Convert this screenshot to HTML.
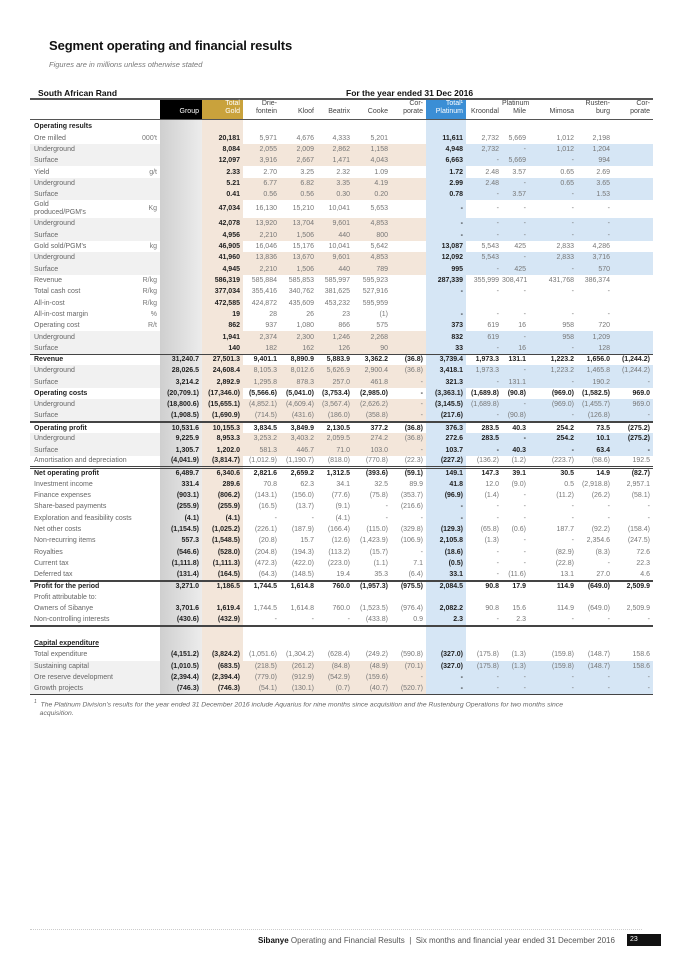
<!DOCTYPE html>
<html><head><meta charset="utf-8"><style>
*{margin:0;padding:0;box-sizing:border-box}
body{width:680px;height:962px;background:#fff;position:relative;font-family:"Liberation Sans",sans-serif;overflow:hidden}
.t{position:absolute;left:49px;top:38px;font-size:13px;font-weight:bold;color:#111;letter-spacing:-0.1px}
.st{position:absolute;left:49px;top:60px;font-size:7.5px;font-style:italic;color:#777}
.sar{position:absolute;left:38px;top:88px;font-size:8.5px;font-weight:bold;color:#111}
.fy{position:absolute;left:346px;top:88px;font-size:8.5px;font-weight:bold;color:#111}
table{position:absolute;left:30px;top:98px;width:623px;border-collapse:collapse;table-layout:fixed;font-size:7px;border-top:2px solid #555}
td{height:11.33px;text-align:right;padding:0 3px 0 0;white-space:nowrap;color:#777;line-height:7px;overflow:visible}
td:nth-child(1){text-align:left;padding-left:4px;color:#666}
td:nth-child(2){color:#777}
td:nth-child(3){background:linear-gradient(90deg,#cfcfcf,#ececec)}
td:nth-child(4){background:#f3e6da}
td:nth-child(10){background:#d6e6f5}
td:nth-child(3),td:nth-child(4),td:nth-child(10){font-weight:bold;color:#222}
tr.s td:nth-child(1),tr.s td:nth-child(2){background:#f1f1f1}
tr.s td:nth-child(n+5):nth-child(-n+9){background:#f3e6da}
tr.s td:nth-child(n+11){background:#d6e6f5}
tr.b td{font-weight:bold;color:#222}
tr.l td{border-top:1px solid #444}
tr.L td{border-top:2px solid #444}
tr.D td{border-top:3px double #444}
tr.h td{height:20px;vertical-align:bottom;padding-bottom:3px;color:#444;line-height:8px;border-bottom:1.5px solid #555;background:#fff}
tr.h td:nth-child(3){background:#000;color:#fff;font-weight:normal}
tr.h td:nth-child(4){background:#c9a23c;color:#fff;font-weight:normal}
tr.h td:nth-child(10){background:#3b8ed5;color:#fff;font-weight:normal}
tr.g td{height:17.6px;line-height:8px}
.cap{text-decoration:underline;font-weight:bold;color:#222}
.fn{position:absolute;left:34px;top:698px;font-size:6.8px;font-style:italic;color:#666;line-height:8.5px;width:640px}
.foot{position:absolute;left:258px;top:936px;font-size:8px;color:#555}
.foot b{color:#111}
.fl{position:absolute;left:30px;top:929px;width:612px;border-top:1px dotted #ccc}
.pg{position:absolute;left:627px;top:934px;width:34px;height:12px;background:#111;color:#fff;font-size:7px;padding:2px 0 0 3px}
</style></head><body>
<div class="t">Segment operating and financial results</div>
<div class="st">Figures are in millions unless otherwise stated</div>
<div class="sar">South African Rand</div>
<div class="fy">For the year ended 31 Dec 2016</div>
<table>
<colgroup><col style="width:100px"><col style="width:30px"><col style="width:42px"><col style="width:41px"><col style="width:37px"><col style="width:37px"><col style="width:36px"><col style="width:38px"><col style="width:35px"><col style="width:40px"><col style="width:36px"><col style="width:27px"><col style="width:48px"><col style="width:36px"><col style="width:40px"></colgroup>
<tr class="h"><td></td><td></td><td>Group</td><td>Total<br>Gold</td><td>Drie-<br>fontein</td><td>Kloof</td><td>Beatrix</td><td>Cooke</td><td>Cor-<br>porate</td><td>Total¹<br>Platinum</td><td>Kroondal</td><td>Platinum<br>Mile</td><td>Mimosa</td><td>Rusten-<br>burg</td><td>Cor-<br>porate</td></tr>
<tr style="height:13px"><td style="font-weight:bold;color:#222;height:13px">Operating results</td><td></td><td></td><td></td><td></td><td></td><td></td><td></td><td></td><td></td><td></td><td></td><td></td><td></td><td></td></tr>
<tr><td>Ore milled</td><td>000't</td><td></td><td>20,181</td><td>5,971</td><td>4,676</td><td>4,333</td><td>5,201</td><td></td><td>11,611</td><td>2,732</td><td>5,669</td><td>1,012</td><td>2,198</td><td></td></tr>
<tr class="s"><td>Underground</td><td></td><td></td><td>8,084</td><td>2,055</td><td>2,009</td><td>2,862</td><td>1,158</td><td></td><td>4,948</td><td>2,732</td><td>-</td><td>1,012</td><td>1,204</td><td></td></tr>
<tr class="s"><td>Surface</td><td></td><td></td><td>12,097</td><td>3,916</td><td>2,667</td><td>1,471</td><td>4,043</td><td></td><td>6,663</td><td>-</td><td>5,669</td><td>-</td><td>994</td><td></td></tr>
<tr><td>Yield</td><td>g/t</td><td></td><td>2.33</td><td>2.70</td><td>3.25</td><td>2.32</td><td>1.09</td><td></td><td>1.72</td><td>2.48</td><td>3.57</td><td>0.65</td><td>2.69</td><td></td></tr>
<tr class="s"><td>Underground</td><td></td><td></td><td>5.21</td><td>6.77</td><td>6.82</td><td>3.35</td><td>4.19</td><td></td><td>2.99</td><td>2.48</td><td>-</td><td>0.65</td><td>3.65</td><td></td></tr>
<tr class="s"><td>Surface</td><td></td><td></td><td>0.41</td><td>0.56</td><td>0.56</td><td>0.30</td><td>0.20</td><td></td><td>0.78</td><td>-</td><td>3.57</td><td>-</td><td>1.53</td><td></td></tr>
<tr class="g"><td>Gold<br>produced/PGM's</td><td>Kg</td><td></td><td>47,034</td><td>16,130</td><td>15,210</td><td>10,041</td><td>5,653</td><td></td><td>-</td><td>-</td><td>-</td><td>-</td><td>-</td><td></td></tr>
<tr class="s"><td>Underground</td><td></td><td></td><td>42,078</td><td>13,920</td><td>13,704</td><td>9,601</td><td>4,853</td><td></td><td>-</td><td>-</td><td>-</td><td>-</td><td>-</td><td></td></tr>
<tr class="s"><td>Surface</td><td></td><td></td><td>4,956</td><td>2,210</td><td>1,506</td><td>440</td><td>800</td><td></td><td>-</td><td>-</td><td>-</td><td>-</td><td>-</td><td></td></tr>
<tr><td>Gold sold/PGM's</td><td>kg</td><td></td><td>46,905</td><td>16,046</td><td>15,176</td><td>10,041</td><td>5,642</td><td></td><td>13,087</td><td>5,543</td><td>425</td><td>2,833</td><td>4,286</td><td></td></tr>
<tr class="s"><td>Underground</td><td></td><td></td><td>41,960</td><td>13,836</td><td>13,670</td><td>9,601</td><td>4,853</td><td></td><td>12,092</td><td>5,543</td><td>-</td><td>2,833</td><td>3,716</td><td></td></tr>
<tr class="s"><td>Surface</td><td></td><td></td><td>4,945</td><td>2,210</td><td>1,506</td><td>440</td><td>789</td><td></td><td>995</td><td>-</td><td>425</td><td>-</td><td>570</td><td></td></tr>
<tr><td>Revenue</td><td>R/kg</td><td></td><td>586,319</td><td>585,884</td><td>585,853</td><td>585,997</td><td>595,923</td><td></td><td>287,339</td><td>355,999</td><td>308,471</td><td>431,768</td><td>386,374</td><td></td></tr>
<tr><td>Total cash cost</td><td>R/kg</td><td></td><td>377,034</td><td>355,416</td><td>340,762</td><td>381,625</td><td>527,916</td><td></td><td>-</td><td>-</td><td>-</td><td>-</td><td>-</td><td></td></tr>
<tr><td>All-in-cost</td><td>R/kg</td><td></td><td>472,585</td><td>424,872</td><td>435,609</td><td>453,232</td><td>595,959</td><td></td><td></td><td></td><td></td><td></td><td></td><td></td></tr>
<tr><td>All-in-cost margin</td><td>%</td><td></td><td>19</td><td>28</td><td>26</td><td>23</td><td>(1)</td><td></td><td>-</td><td>-</td><td>-</td><td>-</td><td>-</td><td></td></tr>
<tr><td>Operating cost</td><td>R/t</td><td></td><td>862</td><td>937</td><td>1,080</td><td>866</td><td>575</td><td></td><td>373</td><td>619</td><td>16</td><td>958</td><td>720</td><td></td></tr>
<tr class="s"><td>Underground</td><td></td><td></td><td>1,941</td><td>2,374</td><td>2,300</td><td>1,246</td><td>2,268</td><td></td><td>832</td><td>619</td><td>-</td><td>958</td><td>1,209</td><td></td></tr>
<tr class="s"><td>Surface</td><td></td><td></td><td>140</td><td>182</td><td>162</td><td>126</td><td>90</td><td></td><td>33</td><td>-</td><td>16</td><td>-</td><td>128</td><td></td></tr>
<tr class="b l"><td>Revenue</td><td></td><td>31,240.7</td><td>27,501.3</td><td>9,401.1</td><td>8,890.9</td><td>5,883.9</td><td>3,362.2</td><td>(36.8)</td><td>3,739.4</td><td>1,973.3</td><td>131.1</td><td>1,223.2</td><td>1,656.0</td><td>(1,244.2)</td></tr>
<tr class="s"><td>Underground</td><td></td><td>28,026.5</td><td>24,608.4</td><td>8,105.3</td><td>8,012.6</td><td>5,626.9</td><td>2,900.4</td><td>(36.8)</td><td>3,418.1</td><td>1,973.3</td><td>-</td><td>1,223.2</td><td>1,465.8</td><td>(1,244.2)</td></tr>
<tr class="s"><td>Surface</td><td></td><td>3,214.2</td><td>2,892.9</td><td>1,295.8</td><td>878.3</td><td>257.0</td><td>461.8</td><td>-</td><td>321.3</td><td>-</td><td>131.1</td><td>-</td><td>190.2</td><td>-</td></tr>
<tr class="b"><td>Operating costs</td><td></td><td>(20,709.1)</td><td>(17,346.0)</td><td>(5,566.6)</td><td>(5,041.0)</td><td>(3,753.4)</td><td>(2,985.0)</td><td>-</td><td>(3,363.1)</td><td>(1,689.8)</td><td>(90.8)</td><td>(969.0)</td><td>(1,582.5)</td><td>969.0</td></tr>
<tr class="s"><td>Underground</td><td></td><td>(18,800.6)</td><td>(15,655.1)</td><td>(4,852.1)</td><td>(4,609.4)</td><td>(3,567.4)</td><td>(2,626.2)</td><td>-</td><td>(3,145.5)</td><td>(1,689.8)</td><td>-</td><td>(969.0)</td><td>(1,455.7)</td><td>969.0</td></tr>
<tr class="s"><td>Surface</td><td></td><td>(1,908.5)</td><td>(1,690.9)</td><td>(714.5)</td><td>(431.6)</td><td>(186.0)</td><td>(358.8)</td><td>-</td><td>(217.6)</td><td>-</td><td>(90.8)</td><td>-</td><td>(126.8)</td><td>-</td></tr>
<tr class="b L"><td>Operating profit</td><td></td><td>10,531.6</td><td>10,155.3</td><td>3,834.5</td><td>3,849.9</td><td>2,130.5</td><td>377.2</td><td>(36.8)</td><td>376.3</td><td>283.5</td><td>40.3</td><td>254.2</td><td>73.5</td><td>(275.2)</td></tr>
<tr class="s"><td>Underground</td><td></td><td>9,225.9</td><td>8,953.3</td><td>3,253.2</td><td>3,403.2</td><td>2,059.5</td><td>274.2</td><td>(36.8)</td><td>272.6</td><td><b style="color:#222">283.5</b></td><td><b style="color:#222">-</b></td><td><b style="color:#222">254.2</b></td><td><b style="color:#222">10.1</b></td><td><b style="color:#222">(275.2)</b></td></tr>
<tr class="s"><td>Surface</td><td></td><td>1,305.7</td><td>1,202.0</td><td>581.3</td><td>446.7</td><td>71.0</td><td>103.0</td><td>-</td><td>103.7</td><td><b style="color:#222">-</b></td><td><b style="color:#222">40.3</b></td><td><b style="color:#222">-</b></td><td><b style="color:#222">63.4</b></td><td><b style="color:#222">-</b></td></tr>
<tr><td>Amortisation and depreciation</td><td></td><td>(4,041.9)</td><td>(3,814.7)</td><td>(1,012.9)</td><td>(1,190.7)</td><td>(818.0)</td><td>(770.8)</td><td>(22.3)</td><td>(227.2)</td><td>(136.2)</td><td>(1.2)</td><td>(223.7)</td><td>(58.6)</td><td>192.5</td></tr>
<tr class="b D"><td>Net operating profit</td><td></td><td>6,489.7</td><td>6,340.6</td><td>2,821.6</td><td>2,659.2</td><td>1,312.5</td><td>(393.6)</td><td>(59.1)</td><td>149.1</td><td>147.3</td><td>39.1</td><td>30.5</td><td>14.9</td><td>(82.7)</td></tr>
<tr><td>Investment income</td><td></td><td>331.4</td><td>289.6</td><td>70.8</td><td>62.3</td><td>34.1</td><td>32.5</td><td>89.9</td><td>41.8</td><td>12.0</td><td>(9.0)</td><td>0.5</td><td>(2,918.8)</td><td>2,957.1</td></tr>
<tr><td>Finance expenses</td><td></td><td>(903.1)</td><td>(806.2)</td><td>(143.1)</td><td>(156.0)</td><td>(77.6)</td><td>(75.8)</td><td>(353.7)</td><td>(96.9)</td><td>(1.4)</td><td>-</td><td>(11.2)</td><td>(26.2)</td><td>(58.1)</td></tr>
<tr><td>Share-based payments</td><td></td><td>(255.9)</td><td>(255.9)</td><td>(16.5)</td><td>(13.7)</td><td>(9.1)</td><td>-</td><td>(216.6)</td><td>-</td><td>-</td><td>-</td><td>-</td><td>-</td><td>-</td></tr>
<tr><td>Exploration and feasibility costs</td><td></td><td>(4.1)</td><td>(4.1)</td><td>-</td><td>-</td><td>(4.1)</td><td>-</td><td>-</td><td>-</td><td>-</td><td>-</td><td>-</td><td>-</td><td>-</td></tr>
<tr><td>Net other costs</td><td></td><td>(1,154.5)</td><td>(1,025.2)</td><td>(226.1)</td><td>(187.9)</td><td>(166.4)</td><td>(115.0)</td><td>(329.8)</td><td>(129.3)</td><td>(65.8)</td><td>(0.6)</td><td>187.7</td><td>(92.2)</td><td>(158.4)</td></tr>
<tr><td>Non-recurring items</td><td></td><td>557.3</td><td>(1,548.5)</td><td>(20.8)</td><td>15.7</td><td>(12.6)</td><td>(1,423.9)</td><td>(106.9)</td><td>2,105.8</td><td>(1.3)</td><td>-</td><td>-</td><td>2,354.6</td><td>(247.5)</td></tr>
<tr><td>Royalties</td><td></td><td>(546.6)</td><td>(528.0)</td><td>(204.8)</td><td>(194.3)</td><td>(113.2)</td><td>(15.7)</td><td>-</td><td>(18.6)</td><td>-</td><td>-</td><td>(82.9)</td><td>(8.3)</td><td>72.6</td></tr>
<tr><td>Current tax</td><td></td><td>(1,111.8)</td><td>(1,111.3)</td><td>(472.3)</td><td>(422.0)</td><td>(223.0)</td><td>(1.1)</td><td>7.1</td><td>(0.5)</td><td>-</td><td>-</td><td>(22.8)</td><td>-</td><td>22.3</td></tr>
<tr><td>Deferred tax</td><td></td><td>(131.4)</td><td>(164.5)</td><td>(64.3)</td><td>(148.5)</td><td>19.4</td><td>35.3</td><td>(6.4)</td><td>33.1</td><td>-</td><td>(11.6)</td><td>13.1</td><td>27.0</td><td>4.6</td></tr>
<tr class="b L"><td>Profit for the period</td><td></td><td>3,271.0</td><td>1,186.5</td><td>1,744.5</td><td>1,614.8</td><td>760.0</td><td>(1,957.3)</td><td>(975.5)</td><td>2,084.5</td><td>90.8</td><td>17.9</td><td>114.9</td><td>(649.0)</td><td>2,509.9</td></tr>
<tr><td>Profit attributable to:</td><td></td><td></td><td></td><td></td><td></td><td></td><td></td><td></td><td></td><td></td><td></td><td></td><td></td><td></td></tr>
<tr><td>Owners of Sibanye</td><td></td><td>3,701.6</td><td>1,619.4</td><td>1,744.5</td><td>1,614.8</td><td>760.0</td><td>(1,523.5)</td><td>(976.4)</td><td>2,082.2</td><td>90.8</td><td>15.6</td><td>114.9</td><td>(649.0)</td><td>2,509.9</td></tr>
<tr><td>Non-controlling interests</td><td></td><td>(430.6)</td><td>(432.9)</td><td>-</td><td>-</td><td>-</td><td>(433.8)</td><td>0.9</td><td>2.3</td><td>-</td><td>2.3</td><td>-</td><td>-</td><td>-</td></tr>
<tr class="L"><td style="height:12px"></td><td></td><td></td><td></td><td></td><td></td><td></td><td></td><td></td><td></td><td></td><td></td><td></td><td></td><td></td></tr>
<tr><td><span class="cap">Capital expenditure</span></td><td></td><td></td><td></td><td></td><td></td><td></td><td></td><td></td><td></td><td></td><td></td><td></td><td></td><td></td></tr>
<tr><td>Total expenditure</td><td></td><td>(4,151.2)</td><td>(3,824.2)</td><td>(1,051.6)</td><td>(1,304.2)</td><td>(628.4)</td><td>(249.2)</td><td>(590.8)</td><td>(327.0)</td><td>(175.8)</td><td>(1.3)</td><td>(159.8)</td><td>(148.7)</td><td>158.6</td></tr>
<tr class="s"><td>Sustaining capital</td><td></td><td>(1,010.5)</td><td>(683.5)</td><td>(218.5)</td><td>(261.2)</td><td>(84.8)</td><td>(48.9)</td><td>(70.1)</td><td>(327.0)</td><td>(175.8)</td><td>(1.3)</td><td>(159.8)</td><td>(148.7)</td><td>158.6</td></tr>
<tr class="s"><td>Ore reserve development</td><td></td><td>(2,394.4)</td><td>(2,394.4)</td><td>(779.0)</td><td>(912.9)</td><td>(542.9)</td><td>(159.6)</td><td>-</td><td>-</td><td>-</td><td>-</td><td>-</td><td>-</td><td>-</td></tr>
<tr class="s" style="border-bottom:1.5px solid #444"><td>Growth projects</td><td></td><td>(746.3)</td><td>(746.3)</td><td>(54.1)</td><td>(130.1)</td><td>(0.7)</td><td>(40.7)</td><td>(520.7)</td><td>-</td><td>-</td><td>-</td><td>-</td><td>-</td><td>-</td></tr>
</table>
<div class="fn"><sup style="font-size:5px">1</sup>&nbsp; The Platinum Division's results for the year ended 31 December 2016 include Aquarius for nine months since acquisition and the Rustenburg Operations for two months since<br>&nbsp;&nbsp;&nbsp;acquisition.</div>
<div class="fl"></div>
<div class="foot"><b>Sibanye</b> Operating and Financial Results &nbsp;|&nbsp; Six months and financial year ended 31 December 2016</div>
<div class="pg">23</div>
</body></html>
